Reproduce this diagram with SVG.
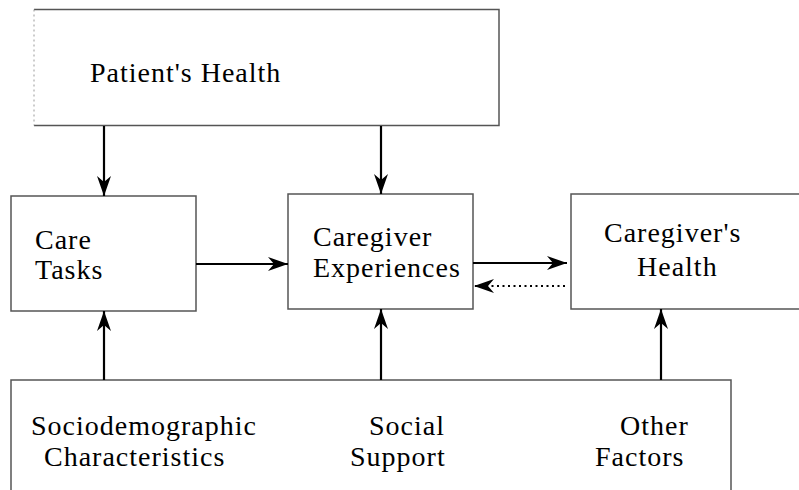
<svg xmlns="http://www.w3.org/2000/svg" width="799" height="490" viewBox="0 0 799 490">
<style>
.box{fill:none;stroke:#555;stroke-width:1.5}
.faint{fill:none;stroke:#999;stroke-width:1;stroke-dasharray:2 3}
.lbl{font-family:"Liberation Serif","Times New Roman",serif;font-size:28px;letter-spacing:1px;fill:#000}
.arr{fill:none;stroke:#000;stroke-width:2.2;marker-end:url(#ah)}
.dot{fill:none;stroke:#000;stroke-width:2.2;stroke-dasharray:2 3.5;marker-end:url(#ah)}
</style>
<defs>
<marker id="ah" markerUnits="userSpaceOnUse" viewBox="0 0 20 14" markerWidth="20" markerHeight="14" refX="20" refY="7" orient="auto">
<path d="M0,0 L20,7 L0,14 L6,7 z" fill="#000"/>
</marker>
</defs>
<rect width="799" height="490" fill="#fff"/>
<g id="patients-health">
<path class="box" d="M34,9.5 H499 V125.5 H34"/>
<path class="faint" d="M34,9.5 V125.5"/>
<text class="lbl" x="90" y="82">Patient's Health</text>
</g>
<g id="care-tasks">
<rect class="box" x="11" y="196" width="185" height="115"/>
<text class="lbl" x="35" y="249">Care</text>
<text class="lbl" x="35" y="279">Tasks</text>
</g>
<g id="caregiver-experiences">
<rect class="box" x="288" y="194" width="185" height="115"/>
<text class="lbl" x="313" y="246">Caregiver</text>
<text class="lbl" x="313" y="277">Experiences</text>
</g>
<g id="caregivers-health">
<path class="box" d="M800,194 H571 V309 H800"/>
<text class="lbl" x="604" y="242">Caregiver's</text>
<text class="lbl" x="637" y="276">Health</text>
</g>
<g id="other-factors-box">
<path class="box" d="M11,491 V380 H731 V491"/>
<text class="lbl" x="31" y="435">Sociodemographic</text>
<text class="lbl" x="44" y="466">Characteristics</text>
<text class="lbl" x="369" y="435">Social</text>
<text class="lbl" x="350" y="466">Support</text>
<text class="lbl" x="620" y="435">Other</text>
<text class="lbl" x="595" y="466">Factors</text>
</g>
<g id="connectors">
<line class="arr" x1="104" y1="126" x2="104" y2="196"/>
<line class="arr" x1="381" y1="126" x2="381" y2="194"/>
<line class="arr" x1="196" y1="264" x2="288" y2="264"/>
<line class="arr" x1="473" y1="263" x2="567" y2="263"/>
<line class="dot" x1="565" y1="286" x2="474" y2="286"/>
<line class="arr" x1="104" y1="380" x2="104" y2="311"/>
<line class="arr" x1="381" y1="380" x2="381" y2="309"/>
<line class="arr" x1="661" y1="380" x2="661" y2="309"/>
</g>
</svg>
